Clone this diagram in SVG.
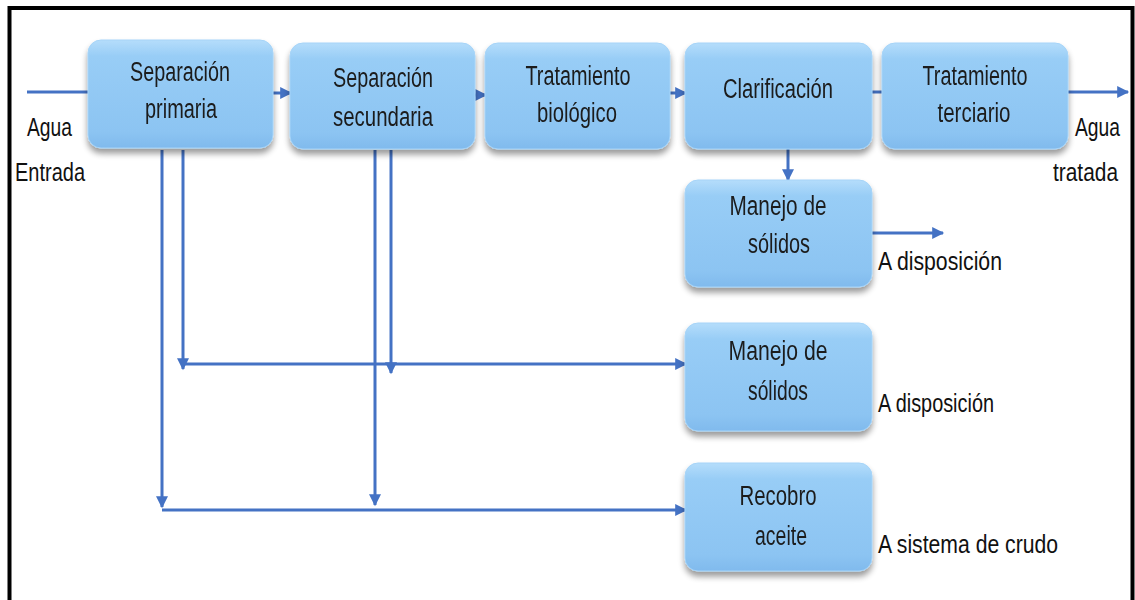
<svg xmlns="http://www.w3.org/2000/svg" width="1135" height="600" viewBox="0 0 1135 600">
<defs>
<linearGradient id="g" x1="0" y1="0" x2="0" y2="1">
<stop offset="0" stop-color="#b5ddfb"/>
<stop offset="0.15" stop-color="#98cdf6"/>
<stop offset="0.85" stop-color="#8cc4f2"/>
<stop offset="1" stop-color="#80baed"/>
</linearGradient>
<filter id="sh" x="-10%" y="-10%" width="120%" height="140%">
<feGaussianBlur in="SourceAlpha" stdDeviation="3"/>
<feOffset dx="0" dy="5" result="b"/>
<feComponentTransfer><feFuncA type="linear" slope="0.4"/></feComponentTransfer>
<feMerge><feMergeNode/><feMergeNode in="SourceGraphic"/></feMerge>
</filter>
<marker id="ah" viewBox="0 0 10 10" refX="9" refY="5" markerWidth="4.3" markerHeight="4" orient="auto" markerUnits="strokeWidth">
<path d="M0,0 L10,5 L0,10 z" fill="#4472c4"/>
</marker>
</defs>
<style>
.box{fill:url(#g);stroke:#a6d4f8;stroke-width:1}
.bev{fill:#7fb8ea;opacity:0.35}
.t{font-family:"Liberation Sans",Arial,sans-serif;font-size:27px;fill:#1b1b1b;text-anchor:middle}
.l{font-family:"Liberation Sans",Arial,sans-serif;font-size:25px;fill:#111}
.c{fill:none;stroke:#4472c4;stroke-width:3}
.a{fill:none;stroke:#4472c4;stroke-width:3;marker-end:url(#ah)}
</style>
<rect x="0" y="0" width="1135" height="600" fill="#fff"/>
<path d="M9.5,605 V8 H1132.5 V605" fill="none" stroke="#000" stroke-width="4"/>

<g id="connectors">
<line class="c" x1="27" y1="92" x2="88" y2="92"/>
<line class="a" x1="273" y1="93" x2="291" y2="93"/>
<line class="a" x1="475" y1="95" x2="486" y2="95"/>
<line class="a" x1="670" y1="93" x2="686" y2="93"/>
<line class="c" x1="872" y1="92" x2="882" y2="92"/>
<line class="a" x1="1068" y1="92" x2="1128" y2="92"/>
<line class="a" x1="788" y1="148" x2="788" y2="180"/>
<line class="a" x1="872" y1="233" x2="943" y2="233"/>
<line class="a" x1="183" y1="150" x2="183" y2="369"/>
<line class="a" x1="162" y1="150" x2="162" y2="507"/>
<line class="a" x1="391" y1="150" x2="391" y2="373"/>
<line class="a" x1="375" y1="150" x2="375" y2="505"/>
<line class="a" x1="183" y1="364" x2="686" y2="364"/>
<line class="a" x1="162" y1="510" x2="686" y2="510"/>
</g>

<g id="n1" filter="url(#sh)">
<rect class="box" x="88" y="40" width="185" height="108" rx="13"/>
<text class="t" x="180" y="81" textLength="100" lengthAdjust="spacingAndGlyphs">Separación</text>
<text class="t" x="181" y="118" textLength="72" lengthAdjust="spacingAndGlyphs">primaria</text>
</g>
<g id="n2" filter="url(#sh)">
<rect class="box" x="290" y="43" width="185" height="106" rx="13"/>
<text class="t" x="383" y="87" textLength="100" lengthAdjust="spacingAndGlyphs">Separación</text>
<text class="t" x="383" y="126" textLength="100" lengthAdjust="spacingAndGlyphs">secundaria</text>
</g>
<g id="n3" filter="url(#sh)">
<rect class="box" x="485" y="43" width="185" height="106" rx="13"/>
<text class="t" x="578" y="85" textLength="105" lengthAdjust="spacingAndGlyphs">Tratamiento</text>
<text class="t" x="577" y="122" textLength="80" lengthAdjust="spacingAndGlyphs">biológico</text>
</g>
<g id="n4" filter="url(#sh)">
<rect class="box" x="685" y="43" width="187" height="106" rx="13"/>
<text class="t" x="778" y="98" textLength="110" lengthAdjust="spacingAndGlyphs">Clarificación</text>
</g>
<g id="n5" filter="url(#sh)">
<rect class="box" x="882" y="43" width="186" height="106" rx="13"/>
<text class="t" x="975" y="85" textLength="105" lengthAdjust="spacingAndGlyphs">Tratamiento</text>
<text class="t" x="974" y="122" textLength="73" lengthAdjust="spacingAndGlyphs">terciario</text>
</g>
<g id="n6" filter="url(#sh)">
<rect class="box" x="685" y="180" width="187" height="107" rx="13"/>
<text class="t" x="778" y="215" textLength="97" lengthAdjust="spacingAndGlyphs">Manejo de</text>
<text class="t" x="779" y="253" textLength="62" lengthAdjust="spacingAndGlyphs">sólidos</text>
</g>
<g id="n7" filter="url(#sh)">
<rect class="box" x="685" y="323" width="187" height="108" rx="13"/>
<text class="t" x="778" y="360" textLength="99" lengthAdjust="spacingAndGlyphs">Manejo de</text>
<text class="t" x="778" y="400" textLength="60" lengthAdjust="spacingAndGlyphs">sólidos</text>
</g>
<g id="n8" filter="url(#sh)">
<rect class="box" x="685" y="463" width="187" height="108" rx="13"/>
<text class="t" x="778" y="505" textLength="77" lengthAdjust="spacingAndGlyphs">Recobro</text>
<text class="t" x="781" y="545" textLength="52" lengthAdjust="spacingAndGlyphs">aceite</text>
</g>

<g id="labels">
<text class="l" x="27" y="136" textLength="45" lengthAdjust="spacingAndGlyphs">Agua</text>
<text class="l" x="15" y="181" textLength="70" lengthAdjust="spacingAndGlyphs">Entrada</text>
<text class="l" x="1075" y="136" textLength="45" lengthAdjust="spacingAndGlyphs">Agua</text>
<text class="l" x="1053" y="181" textLength="65" lengthAdjust="spacingAndGlyphs">tratada</text>
<text class="l" x="878" y="270" textLength="124" lengthAdjust="spacingAndGlyphs">A disposición</text>
<text class="l" x="878" y="412" textLength="116" lengthAdjust="spacingAndGlyphs">A disposición</text>
<text class="l" x="878" y="553" textLength="180" lengthAdjust="spacingAndGlyphs">A sistema de crudo</text>
</g>
</svg>
